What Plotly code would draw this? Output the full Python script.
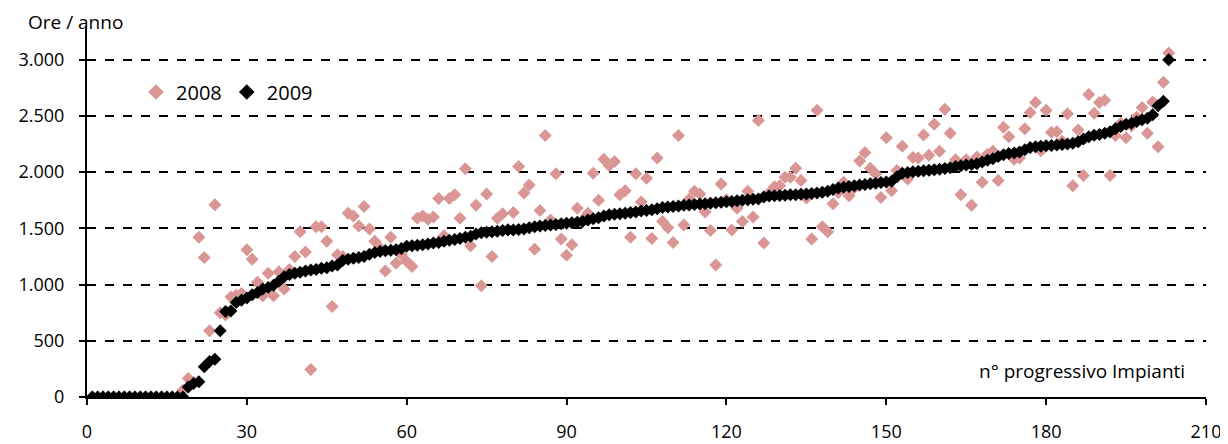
import plotly.graph_objects as go

series_2008 = [0]*17 + [
    60, 165, 130, 1420, 1240, 590, 1710, 750, 730, 890,
    905, 920, 1310, 1225, 1020, 900, 1100, 900, 1115, 960,
    1135, 1250, 1470, 1290, 245, 1515, 1515, 1385, 805, 1265,
    1250, 1635, 1610, 1520, 1695, 1495, 1385, 1325, 1120, 1420,
    1190, 1265, 1205, 1160, 1590, 1610, 1580, 1600, 1765, 1435,
    1765, 1800, 1590, 2030, 1345, 1705, 990, 1805, 1250, 1590,
    1630, 1490, 1640, 2050, 1815, 1885, 1315, 1660, 2325, 1575,
    1985, 1405, 1260, 1355, 1680, 1575, 1635, 1990, 1750, 2115,
    2060, 2095, 1800, 1835, 1420, 1985, 1735, 1945, 1410, 2125,
    1560, 1505, 1375, 2325, 1530, 1760, 1830, 1805, 1645, 1480,
    1175, 1895, 1755, 1485, 1680, 1560, 1830, 1600, 2460, 1370,
    1815, 1870, 1880, 1955, 1955, 2035, 1925, 1770, 1405, 2550,
    1515, 1470, 1720, 1820, 1910, 1790, 1860, 2100, 2175, 2035,
    1985, 1775, 2305, 1835, 2015, 2230, 1940, 2130, 2125, 2330,
    2150, 2425, 2185, 2560, 2345, 2110, 1800, 2110, 1705, 2135,
    1910, 2160, 2185, 1925, 2400, 2315, 2115, 2125, 2385, 2530,
    2620, 2190, 2550, 2355, 2360, 2275, 2520, 1880, 2375, 1970,
    2690, 2525, 2620, 2640, 1970, 2325, 2435, 2305, 2410, 2490,
    2575, 2345, 2625, 2225, 2800, 3060,
]

series_2009 = [0]*18 + [
    90, 120, 135, 270, 315, 335, 590, 760, 765, 840,
    860, 880, 910, 930, 960, 975, 995, 1030, 1070, 1090,
    1100, 1110, 1120, 1130, 1135, 1145, 1150, 1165, 1175, 1215,
    1225, 1235, 1240, 1250, 1270, 1285, 1295, 1300, 1305, 1310,
    1320, 1340, 1345, 1350, 1355, 1360, 1370, 1375, 1385, 1395,
    1400, 1410, 1420, 1430, 1450, 1460, 1465, 1470, 1475, 1480,
    1485, 1485, 1490, 1495, 1505, 1515, 1520, 1525, 1530, 1535,
    1540, 1545, 1550, 1555, 1560, 1575, 1585, 1595, 1610, 1620,
    1625, 1630, 1635, 1640, 1645, 1655, 1660, 1665, 1675, 1685,
    1690, 1695, 1700, 1705, 1708, 1712, 1716, 1720, 1724, 1728,
    1732, 1736, 1740, 1745, 1750, 1755, 1758, 1762, 1780, 1788,
    1790, 1792, 1795, 1798, 1800, 1803, 1806, 1810, 1815, 1822,
    1830, 1845, 1858, 1865, 1872, 1880, 1886, 1890, 1896, 1902,
    1908, 1912, 1920, 1960, 1990, 1998, 2004, 2008, 2012, 2018,
    2022, 2026, 2032, 2040, 2050, 2058, 2064, 2068, 2075, 2090,
    2105, 2120, 2140, 2155, 2165, 2170, 2180, 2200, 2220, 2225,
    2230, 2234, 2238, 2242, 2246, 2250, 2258, 2270, 2295, 2315,
    2328, 2335, 2345, 2360, 2385, 2405, 2425, 2435, 2450, 2465,
    2480, 2510, 2590, 2630, 3000,
]

x_2008 = list(range(1, len(series_2008) + 1))
x_2009 = list(range(1, len(series_2009) + 1))

x_ticks = [0, 30, 60, 90, 120, 150, 180, 210]
y_ticks = [0, 500, 1000, 1500, 2000, 2500, 3000]

FONT = "Open Sans"
PINK = "#D99694"

fig = go.Figure()
fig.add_trace(go.Scatter(
    x=x_2008, y=series_2008, mode="markers", name="2008",
    marker=dict(symbol="diamond", size=10, color=PINK, line=dict(width=0)),
))
fig.add_trace(go.Scatter(
    x=x_2009, y=series_2009, mode="markers", name="2009",
    marker=dict(symbol="diamond", size=10, color="black", line=dict(width=0)),
))

fig.update_layout(
    width=1228, height=444,
    margin=dict(l=79, r=30, t=18, b=55, autoexpand=False),
    paper_bgcolor="white", plot_bgcolor="white",
    separators=",.",
    font=dict(family=FONT, size=18, color="black"),
    showlegend=True,
    legend=dict(
        orientation="h", x=0.0438, y=0.822, xanchor="left", yanchor="middle",
        bgcolor="rgba(0,0,0,0)", font=dict(size=20, family=FONT),
        itemsizing="constant", itemwidth=30, traceorder="normal",
    ),
    xaxis=dict(
        range=[0, 210], tickvals=x_ticks, showgrid=False, zeroline=False,
        showline=True, linecolor="black", linewidth=2,
        ticks="outside", ticklen=6, tickwidth=2, tickcolor="black",
        ticklabelstandoff=11, automargin=False,
        tickfont=dict(size=18, family=FONT),
    ),
    yaxis=dict(
        range=[0, 3300], tickvals=y_ticks, tickformat=",d",
        showgrid=True, gridcolor="black", gridwidth=1.5, griddash="dash",
        zeroline=False, showline=True, linecolor="black", linewidth=2,
        ticks="outside", ticklen=6, tickwidth=2, tickcolor="black",
        ticklabelstandoff=11, automargin=False,
        tickfont=dict(size=18, family=FONT),
    ),
    annotations=[
        dict(text="Ore / anno", xref="paper", yref="paper", x=-0.0545, y=1.0108,
             xanchor="left", yanchor="middle", showarrow=False,
             font=dict(size=19, family=FONT, color="black")),
        dict(text="n° progressivo Impianti", xref="paper", yref="paper",
             x=0.983, y=0.07, xanchor="right", yanchor="middle", showarrow=False,
             font=dict(size=19, family=FONT, color="black")),
    ],
)

fig.write_html("out.html")
